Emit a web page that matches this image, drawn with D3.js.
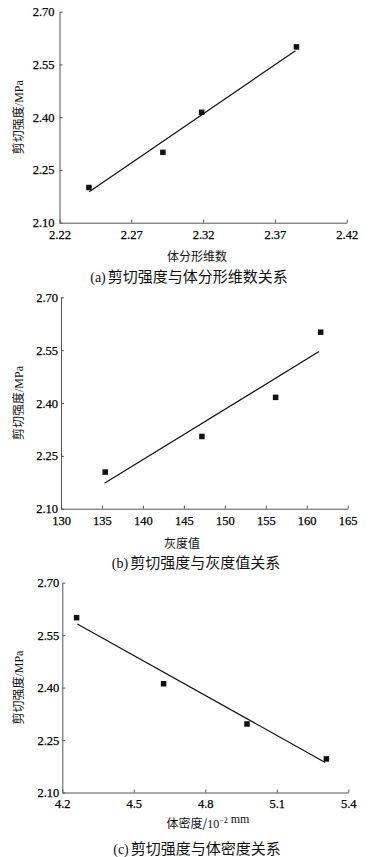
<!DOCTYPE html>
<html>
<head>
<meta charset="utf-8">
<script src="https://cdn.jsdelivr.net/npm/d3@7"></script>
<style>
  body { margin: 0; background: #fff; }
  svg { display: block; }
  .tick text { font-family: "Liberation Serif", "DejaVu Serif", serif; font-size: 12.5px; fill: #000; stroke: #000; stroke-width: 0.25px; }
  .cjk { font-family: "Noto Sans CJK SC", sans-serif; fill: #111; }
  .ser { font-family: "Liberation Serif", serif; fill: #111; }
</style>
</head>
<body>
<div id="chart"></div>
<script>
// values
var yTicks = [2.10, 2.25, 2.40, 2.55, 2.70];

var fractalTicks = [2.22, 2.27, 2.32, 2.37, 2.42];
var fractalDim = [2.2405, 2.292, 2.319, 2.385];
var strengthA = [2.200, 2.300, 2.414, 2.600];
var fitAx = [2.2407, 2.3843];
var fitAy = [2.188, 2.589];

var grayTicks = [130, 135, 140, 145, 150, 155, 160, 165];
var grayValue = [135.4, 147.2, 156.2, 161.7];
var strengthB = [2.204, 2.305, 2.416, 2.601];
var fitBx = [135.3, 161.5];
var fitBy = [2.172, 2.546];

var densityTicks = [4.2, 4.5, 4.8, 5.1, 5.4];
var bulkDensity = [4.26, 4.625, 4.975, 5.308];
var strengthC = [2.600, 2.411, 2.296, 2.196];
var fitCx = [4.263, 5.303];
var fitCy = [2.582, 2.186];

var W = 372, H = 857;
var svg = d3.select("#chart").append("svg")
  .attr("width", W).attr("height", H);

var panels = [
  { left: 59.5, right: 346.7, top: 11.7, bottom: 222.7, pad: 5,
    xt: fractalTicks, xs: fractalDim, ys: strengthA, fx: fitAx, fy: fitAy, fmt: d3.format(".2f"),
    xlab: { x: 197, y: 261, parts: [["cjk", "体分形维数"]] },
    cap: { x: 189, y: 282, letter: "a", text: "剪切强度与体分形维数关系" } },
  { left: 61, right: 347.7, top: 297.3, bottom: 508.7, pad: 3,
    xt: grayTicks, xs: grayValue, ys: strengthB, fx: fitBx, fy: fitBy, fmt: d3.format("d"),
    xlab: { x: 182, y: 548, parts: [["cjk", "灰度值"]] },
    cap: { x: 196, y: 568, letter: "b", text: "剪切强度与灰度值关系" } },
  { left: 62.3, right: 348.3, top: 582.7, bottom: 792.5, pad: 3,
    xt: densityTicks, xs: bulkDensity, ys: strengthC, fx: fitCx, fy: fitCy, fmt: d3.format(".1f"),
    xlab: { x: 208, y: 828, parts: [["cjk", "体密度/"], ["ser", "10"], ["sup", "−2"], ["ser", " mm"]] },
    cap: { x: 197, y: 854, letter: "c", text: "剪切强度与体密度关系" } }
];

panels.forEach(function(p){
  var x = d3.scaleLinear().domain(d3.extent(p.xt)).range([p.left, p.right]);
  var y = d3.scaleLinear().domain(d3.extent(yTicks)).range([p.bottom, p.top]);
  var g = svg.append("g");

  var xAxis = g.append("g")
    .attr("transform", "translate(0," + p.bottom + ")")
    .call(d3.axisBottom(x).tickValues(p.xt).tickFormat(p.fmt)
      .tickSizeInner(-3).tickSizeOuter(0).tickPadding(7));
  var yAxis = g.append("g")
    .attr("transform", "translate(" + p.left + ",0)")
    .call(d3.axisLeft(y).tickValues(yTicks).tickFormat(d3.format(".2f"))
      .tickSizeInner(-3).tickSizeOuter(0).tickPadding(p.pad));
  [xAxis, yAxis].forEach(function(a){
    a.select(".domain").attr("stroke", "#555");
    a.selectAll(".tick line").attr("stroke", "#555");
    a.attr("font-family", null).attr("font-size", null);
  });

  // fitted line
  var pts = p.fx.map(function(v, i){ return [v, p.fy[i]]; });
  g.append("path")
    .attr("d", d3.line().x(function(d){ return x(d[0]); }).y(function(d){ return y(d[1]); })(pts))
    .attr("fill", "none").attr("stroke", "#111").attr("stroke-width", 1.2);

  // measured points
  var s = 5.5;
  g.selectAll("rect.pt").data(p.xs).enter().append("rect")
    .attr("class", "pt")
    .attr("x", function(d){ return x(d) - s / 2; })
    .attr("y", function(d, i){ return y(p.ys[i]) - s / 2; })
    .attr("width", s).attr("height", s)
    .attr("fill", "#111");

  // y label
  var yl = g.append("text")
    .attr("transform", "translate(17," + ((p.top + p.bottom) / 2) + ") rotate(-90)")
    .attr("text-anchor", "middle").attr("dy", "0.35em");
  yl.append("tspan").attr("class", "cjk").attr("font-size", 12).text("剪切强度");
  yl.append("tspan").attr("class", "ser").attr("font-size", 12).text("/MPa");

  // x label
  var xl = g.append("text").attr("x", p.xlab.x).attr("y", p.xlab.y).attr("text-anchor", "middle");
  p.xlab.parts.forEach(function(pt){
    if (pt[0] === "sup") {
      xl.append("tspan").attr("class", "ser").attr("font-size", 8).attr("dy", -5).text(pt[1]);
      xl.append("tspan").attr("dy", 5).text("");
    } else {
      xl.append("tspan").attr("class", pt[0]).attr("font-size", 12).text(pt[1]);
    }
  });

  // caption
  var c = g.append("text").attr("x", p.cap.x).attr("y", p.cap.y).attr("text-anchor", "middle");
  c.append("tspan").attr("class", "ser").attr("font-size", 14).text("(" + p.cap.letter + ")");
  c.append("tspan").attr("class", "cjk").attr("font-size", 15).attr("dx", 2).text(p.cap.text);
});
</script>
</body>
</html>
